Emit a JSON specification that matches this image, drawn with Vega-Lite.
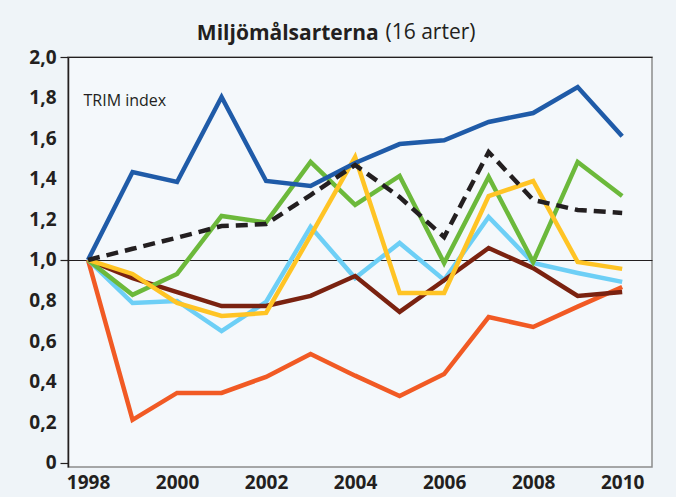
{
  "$schema": "https://vega.github.io/schema/vega-lite/v6.json",
  "autosize": "none",
  "padding": {"left": 68, "top": 57, "right": 24, "bottom": 30},
  "width": 584,
  "height": 410,
  "background": "#eff4f8",
  "config": {
    "font": "Open Sans",
    "view": {"stroke": "#8c8c8c", "strokeWidth": 1.5, "fill": "#f4f8fb"}
  },
  "title": {
    "text": "Miljömålsarterna",
    "anchor": "start",
    "dx": 168,
    "dy": 27,
    "fontSize": 21,
    "fontWeight": "bold",
    "color": "#231f20",
    "font": "Open Sans"
  },
  "data": {
    "values": [
      {"series": "Orange", "year": 1998, "value": 1.0},
      {"series": "Orange", "year": 1999, "value": 0.212},
      {"series": "Orange", "year": 2000, "value": 0.345},
      {"series": "Orange", "year": 2001, "value": 0.345},
      {"series": "Orange", "year": 2002, "value": 0.424},
      {"series": "Orange", "year": 2003, "value": 0.537},
      {"series": "Orange", "year": 2004, "value": 0.43},
      {"series": "Orange", "year": 2005, "value": 0.33},
      {"series": "Orange", "year": 2006, "value": 0.438},
      {"series": "Orange", "year": 2007, "value": 0.719},
      {"series": "Orange", "year": 2008, "value": 0.67},
      {"series": "Orange", "year": 2009, "value": 0.77},
      {"series": "Orange", "year": 2010, "value": 0.867},
      {"series": "Ljusblå", "year": 1998, "value": 1.0},
      {"series": "Ljusblå", "year": 1999, "value": 0.788},
      {"series": "Ljusblå", "year": 2000, "value": 0.798},
      {"series": "Ljusblå", "year": 2001, "value": 0.65},
      {"series": "Ljusblå", "year": 2002, "value": 0.793},
      {"series": "Ljusblå", "year": 2003, "value": 1.163},
      {"series": "Ljusblå", "year": 2004, "value": 0.911},
      {"series": "Ljusblå", "year": 2005, "value": 1.084},
      {"series": "Ljusblå", "year": 2006, "value": 0.901},
      {"series": "Ljusblå", "year": 2007, "value": 1.212},
      {"series": "Ljusblå", "year": 2008, "value": 0.985},
      {"series": "Ljusblå", "year": 2009, "value": 0.936},
      {"series": "Ljusblå", "year": 2010, "value": 0.892},
      {"series": "Brun", "year": 1998, "value": 1.0},
      {"series": "Brun", "year": 1999, "value": 0.911},
      {"series": "Brun", "year": 2000, "value": 0.842},
      {"series": "Brun", "year": 2001, "value": 0.773},
      {"series": "Brun", "year": 2002, "value": 0.773},
      {"series": "Brun", "year": 2003, "value": 0.823},
      {"series": "Brun", "year": 2004, "value": 0.921},
      {"series": "Brun", "year": 2005, "value": 0.744},
      {"series": "Brun", "year": 2006, "value": 0.9},
      {"series": "Brun", "year": 2007, "value": 1.059},
      {"series": "Brun", "year": 2008, "value": 0.96},
      {"series": "Brun", "year": 2009, "value": 0.823},
      {"series": "Brun", "year": 2010, "value": 0.842},
      {"series": "Grön", "year": 1998, "value": 1.0},
      {"series": "Grön", "year": 1999, "value": 0.828},
      {"series": "Grön", "year": 2000, "value": 0.931},
      {"series": "Grön", "year": 2001, "value": 1.217},
      {"series": "Grön", "year": 2002, "value": 1.185},
      {"series": "Grön", "year": 2003, "value": 1.483},
      {"series": "Grön", "year": 2004, "value": 1.271},
      {"series": "Grön", "year": 2005, "value": 1.414},
      {"series": "Grön", "year": 2006, "value": 0.985},
      {"series": "Grön", "year": 2007, "value": 1.409},
      {"series": "Grön", "year": 2008, "value": 0.99},
      {"series": "Grön", "year": 2009, "value": 1.483},
      {"series": "Grön", "year": 2010, "value": 1.315},
      {"series": "Gul", "year": 1998, "value": 1.0},
      {"series": "Gul", "year": 1999, "value": 0.931},
      {"series": "Gul", "year": 2000, "value": 0.788},
      {"series": "Gul", "year": 2001, "value": 0.724},
      {"series": "Gul", "year": 2002, "value": 0.739},
      {"series": "Gul", "year": 2003, "value": 1.12},
      {"series": "Gul", "year": 2004, "value": 1.507},
      {"series": "Gul", "year": 2005, "value": 0.837},
      {"series": "Gul", "year": 2006, "value": 0.837},
      {"series": "Gul", "year": 2007, "value": 1.315},
      {"series": "Gul", "year": 2008, "value": 1.389},
      {"series": "Gul", "year": 2009, "value": 0.99},
      {"series": "Gul", "year": 2010, "value": 0.956},
      {"series": "Blå", "year": 1998, "value": 1.0},
      {"series": "Blå", "year": 1999, "value": 1.433},
      {"series": "Blå", "year": 2000, "value": 1.384},
      {"series": "Blå", "year": 2001, "value": 1.803},
      {"series": "Blå", "year": 2002, "value": 1.389},
      {"series": "Blå", "year": 2003, "value": 1.365},
      {"series": "Blå", "year": 2004, "value": 1.478},
      {"series": "Blå", "year": 2005, "value": 1.571},
      {"series": "Blå", "year": 2006, "value": 1.59},
      {"series": "Blå", "year": 2007, "value": 1.68},
      {"series": "Blå", "year": 2008, "value": 1.724},
      {"series": "Blå", "year": 2009, "value": 1.852},
      {"series": "Blå", "year": 2010, "value": 1.61},
      {"series": "Medel", "year": 1998, "value": 1.0},
      {"series": "Medel", "year": 1999, "value": 1.055},
      {"series": "Medel", "year": 2000, "value": 1.11},
      {"series": "Medel", "year": 2001, "value": 1.167},
      {"series": "Medel", "year": 2002, "value": 1.177},
      {"series": "Medel", "year": 2003, "value": 1.32},
      {"series": "Medel", "year": 2004, "value": 1.468},
      {"series": "Medel", "year": 2005, "value": 1.31},
      {"series": "Medel", "year": 2006, "value": 1.113},
      {"series": "Medel", "year": 2007, "value": 1.532},
      {"series": "Medel", "year": 2008, "value": 1.296},
      {"series": "Medel", "year": 2009, "value": 1.246},
      {"series": "Medel", "year": 2010, "value": 1.232}
    ]
  },
  "encoding": {
    "x": {
      "field": "year",
      "type": "quantitative",
      "scale": {"domain": [1997.55, 2010.67], "nice": false, "zero": false},
      "axis": {
        "values": [1998, 2000, 2002, 2004, 2006, 2008, 2010],
        "format": "d",
        "ticks": false,
        "domain": false,
        "grid": false,
        "labelFontSize": 19,
        "labelFontWeight": "bold",
        "labelColor": "#231f20",
        "labelPadding": 6,
        "labelFont": "Open Sans",
        "title": "TRIM index",
        "titleX": 15,
        "titleY": -367,
        "titleAlign": "left",
        "titleBaseline": "middle",
        "titleAngle": 0,
        "titleFontSize": 16,
        "titleFontWeight": "normal",
        "titleColor": "#231f20",
        "titleFont": "Open Sans"
      }
    },
    "y": {
      "field": "value",
      "type": "quantitative",
      "scale": {"domain": [-0.02, 2], "nice": false, "zero": false},
      "axis": {
        "values": [0, 0.2, 0.4, 0.6, 0.8, 1, 1.2, 1.4, 1.6, 1.8, 2],
        "labelExpr": "datum.value == 0 ? '0' : replace(format(datum.value, '.1f'), '.', ',')",
        "domainColor": "#231f20",
        "domainWidth": 1.5,
        "tickSize": 8,
        "tickColor": "#231f20",
        "tickWidth": 1.2,
        "tickOpacity": {"condition": {"test": "datum.value == 0 || datum.value == 1 || datum.value == 2", "value": 1}, "value": 0},
        "grid": true,
        "gridColor": "#231f20",
        "gridWidth": 1.2,
        "gridOpacity": {"condition": {"test": "datum.value == 1 || datum.value == 2", "value": 1}, "value": 0},
        "labelFontSize": 19,
        "labelFontWeight": "bold",
        "labelColor": "#231f20",
        "labelPadding": 4,
        "labelFont": "Open Sans",
        "title": "(16 arter)",
        "titleX": 317,
        "titleY": -25,
        "titleAlign": "left",
        "titleBaseline": "middle",
        "titleAngle": 0,
        "titleFontSize": 21,
        "titleFontWeight": "normal",
        "titleColor": "#231f20",
        "titleFont": "Open Sans"
      }
    }
  },
  "layer": [
    {
      "transform": [{"filter": "datum.series != 'Medel'"}],
      "mark": {"type": "line", "strokeWidth": 4.5, "strokeJoin": "miter"},
      "encoding": {
        "color": {
          "field": "series",
          "type": "nominal",
          "sort": ["Orange", "Ljusblå", "Brun", "Grön", "Gul", "Blå"],
          "scale": {
            "domain": ["Orange", "Ljusblå", "Brun", "Grön", "Gul", "Blå"],
            "range": ["#f15a24", "#6dcff6", "#7a2210", "#6cb93b", "#ffc425", "#1f5ba8"]
          },
          "legend": null
        }
      }
    },
    {
      "transform": [{"filter": "datum.series == 'Medel'"}],
      "mark": {"type": "line", "strokeWidth": 4.5, "color": "#231f20", "strokeDash": [12, 7], "strokeCap": "butt"},
      "encoding": {}
    }
  ]
}
